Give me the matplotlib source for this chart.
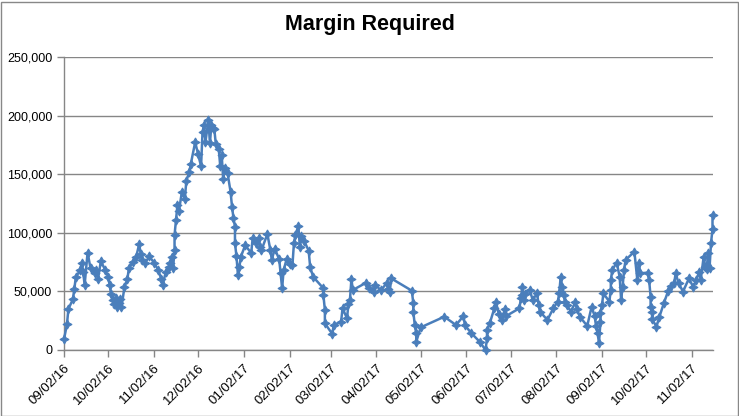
import pandas as pd
import matplotlib
matplotlib.use("Agg")
import matplotlib.pyplot as plt
import matplotlib.dates as mdates
from matplotlib.ticker import FuncFormatter, MultipleLocator
from matplotlib.patches import Rectangle

dates = [
    "2016-09-02", "2016-09-04", "2016-09-05", "2016-09-08", "2016-09-09", "2016-09-10",
    "2016-09-13", "2016-09-14", "2016-09-15", "2016-09-16", "2016-09-18", "2016-09-20",
    "2016-09-23", "2016-09-24", "2016-09-25", "2016-09-27", "2016-09-30", "2016-10-02",
    "2016-10-03", "2016-10-04", "2016-10-05", "2016-10-06", "2016-10-07", "2016-10-08",
    "2016-10-09", "2016-10-10", "2016-10-11", "2016-10-13", "2016-10-15", "2016-10-16",
    "2016-10-19", "2016-10-21", "2016-10-23", "2016-10-24", "2016-10-25", "2016-10-27",
    "2016-10-30", "2016-11-02", "2016-11-05", "2016-11-07", "2016-11-08", "2016-11-10",
    "2016-11-12", "2016-11-13", "2016-11-14", "2016-11-15", "2016-11-16", "2016-11-16",
    "2016-11-17", "2016-11-18", "2016-11-19", "2016-11-21", "2016-11-23", "2016-11-24",
    "2016-11-26", "2016-11-27", "2016-11-30", "2016-12-02", "2016-12-04", "2016-12-05",
    "2016-12-06", "2016-12-07", "2016-12-09", "2016-12-10", "2016-12-11", "2016-12-12",
    "2016-12-13", "2016-12-14", "2016-12-16", "2016-12-17", "2016-12-18", "2016-12-19",
    "2016-12-20", "2016-12-22", "2016-12-24", "2016-12-25", "2016-12-26", "2016-12-27",
    "2016-12-27", "2016-12-28", "2016-12-29", "2016-12-30", "2016-12-31", "2017-01-03",
    "2017-01-07", "2017-01-08", "2017-01-10", "2017-01-12", "2017-01-13", "2017-01-14",
    "2017-01-18", "2017-01-20", "2017-01-21", "2017-01-23", "2017-01-26", "2017-01-27",
    "2017-01-28", "2017-01-29", "2017-01-31", "2017-02-02", "2017-02-04", "2017-02-05",
    "2017-02-06", "2017-02-08", "2017-02-09", "2017-02-10", "2017-02-12", "2017-02-15",
    "2017-02-16", "2017-02-18", "2017-02-25", "2017-02-25", "2017-02-26", "2017-02-26",
    "2017-03-03", "2017-03-04", "2017-03-09", "2017-03-10", "2017-03-13", "2017-03-14",
    "2017-03-15", "2017-03-16", "2017-03-17", "2017-03-26", "2017-03-28", "2017-03-31",
    "2017-04-01", "2017-04-05", "2017-04-09", "2017-04-10", "2017-04-11", "2017-04-12",
    "2017-04-26", "2017-04-27", "2017-04-27", "2017-04-28", "2017-04-29", "2017-04-29",
    "2017-05-02", "2017-05-18", "2017-05-26", "2017-05-31", "2017-06-01", "2017-06-05",
    "2017-06-11", "2017-06-15", "2017-06-16", "2017-06-16", "2017-06-18", "2017-06-21",
    "2017-06-22", "2017-06-24", "2017-06-26", "2017-06-28", "2017-06-29", "2017-07-08",
    "2017-07-09", "2017-07-10", "2017-07-10", "2017-07-11", "2017-07-12", "2017-07-15",
    "2017-07-17", "2017-07-20", "2017-07-21", "2017-07-22", "2017-07-27", "2017-07-31",
    "2017-08-03", "2017-08-04", "2017-08-05", "2017-08-06", "2017-08-07", "2017-08-08",
    "2017-08-09", "2017-08-12", "2017-08-15", "2017-08-16", "2017-08-18", "2017-08-23",
    "2017-08-26", "2017-08-28", "2017-08-29", "2017-08-30", "2017-08-31", "2017-09-01",
    "2017-09-01", "2017-09-02", "2017-09-03", "2017-09-07", "2017-09-08", "2017-09-08",
    "2017-09-09", "2017-09-12", "2017-09-14", "2017-09-15", "2017-09-16", "2017-09-17",
    "2017-09-18", "2017-09-24", "2017-09-26", "2017-09-27", "2017-09-28", "2017-10-03",
    "2017-10-04", "2017-10-05", "2017-10-05", "2017-10-06", "2017-10-06", "2017-10-09",
    "2017-10-11", "2017-10-14", "2017-10-17", "2017-10-19", "2017-10-21", "2017-10-22",
    "2017-10-24", "2017-10-27", "2017-10-31", "2017-11-03", "2017-11-05", "2017-11-07",
    "2017-11-08", "2017-11-10", "2017-11-11", "2017-11-12", "2017-11-13", "2017-11-14",
    "2017-11-15", "2017-11-16", "2017-11-16",
]

margin = [
    9100, 22000, 35000, 43200, 52000, 62000,
    68300, 74500, 66800, 55500, 83100, 69700,
    65400, 68300, 60300, 75700, 68300, 62300,
    55200, 47400, 42700, 39000, 44500, 37000,
    40500, 43200, 36600, 53500, 60300, 69700,
    75500, 79500, 90400, 82200, 76800, 74500,
    79900, 74500, 68300, 60500, 55500, 66500,
    70500, 74000, 79600, 69700, 85300, 98100,
    111200, 124000, 118700, 135100, 129000, 144300,
    151700, 158500, 177300, 167100, 156700, 186300,
    192000, 177800, 196200, 176400, 192000, 189100,
    188400, 175600, 171400, 157100, 166400, 145700,
    155700, 150700, 135100, 122300, 112400, 105200,
    91000, 80300, 64000, 71000, 79600, 89600,
    82500, 95300, 91000, 95300, 88000, 85300,
    99000, 85300, 77000, 86500, 77400, 65400,
    52600, 68000, 77400, 73000, 72500, 91000,
    98000, 105800, 88100, 97000, 93000, 84700,
    71100, 62500, 52600, 46900, 34100, 22800,
    13700, 21300, 24100, 35600, 27000, 39200,
    42700, 60300, 51200, 57400, 52600, 49800,
    55500, 51200, 56900, 52000, 49300, 61100,
    50600, 39800, 32700, 21300, 14200, 7100,
    19300, 28400, 21300, 29000, 21300, 14800,
    7100, 0, 10000, 17100, 23300, 35600,
    41200, 30700, 25600, 34700, 29000, 35600,
    44100, 54000, 47000, 42700, 48000, 51200,
    42700, 48400, 38400, 32700, 25600, 35600,
    41200, 48400, 62500, 54000, 46900, 41000,
    38400, 32700, 41200, 35000, 28400, 20500,
    37000, 29000, 20500, 14200, 6300, 24100,
    31800, 38400, 48400, 41200, 51200, 59700,
    68300, 74500, 62500, 42700, 54000, 68300,
    76800, 83900, 59700, 74500, 65400, 66000,
    59700, 45500, 37000, 32700, 26200, 20000,
    28400, 40000, 50600, 55000, 56900, 65400,
    57000, 49800, 61100, 53500, 59700, 66800,
    59700, 79600, 71100, 68900, 82500, 70000,
    91500, 103000, 115200,
]

title = "Margin Required"
x_start = "2016-09-02"
x_end = "2017-11-16"

df = pd.DataFrame({"date": pd.to_datetime(dates), "margin": margin})

plt.rcParams['font.family'] = ['Liberation Sans', 'DejaVu Sans']

fig = plt.figure(figsize=(7.39, 4.16), dpi=100)
ax = fig.add_axes([64 / 739, 66 / 416, 648.5 / 739, 293 / 416])

ax.plot(df["date"], df["margin"], color="#4a7ebb", linewidth=1.8,
        marker=(4, 1, 0), markersize=6.5, markeredgewidth=0.8,
        markerfacecolor="#4a7ebb", markeredgecolor="#4a7ebb", zorder=3,
        clip_on=False)

ax.set_ylim(0, 250000)
ax.yaxis.set_major_locator(MultipleLocator(50000))
ax.yaxis.set_major_formatter(FuncFormatter(lambda v, p: f"{int(v):,}"))
ax.set_xlim(pd.Timestamp(x_start), pd.Timestamp(x_end))
ax.xaxis.set_major_locator(mdates.MonthLocator(bymonthday=2))
ax.xaxis.set_major_formatter(mdates.DateFormatter("%m/%d/%y"))

ax.grid(axis="y", color="#868686", linewidth=1)
ax.set_axisbelow(True)
for s in ["top", "right"]:
    ax.spines[s].set_visible(False)
for s in ["left", "bottom"]:
    ax.spines[s].set_color("#868686")
    ax.spines[s].set_linewidth(1)

ax.tick_params(axis="both", colors="#868686", labelcolor="black",
               length=5, width=1)
ax.tick_params(axis="y", labelsize=9)
ax.tick_params(axis="x", labelsize=9.5)
plt.setp(ax.get_xticklabels(), rotation=45, ha="right", rotation_mode="anchor")

fig.text(0.5, 0.94, title, ha="center", va="center", fontsize=15.5, fontweight="bold")
fig.patches.append(Rectangle((0.5 / 739, 0.5 / 416), 737 / 739, 414 / 416,
                             transform=fig.transFigure, fill=False,
                             edgecolor="#888888", linewidth=1))

fig.savefig("out.png", dpi=100)
